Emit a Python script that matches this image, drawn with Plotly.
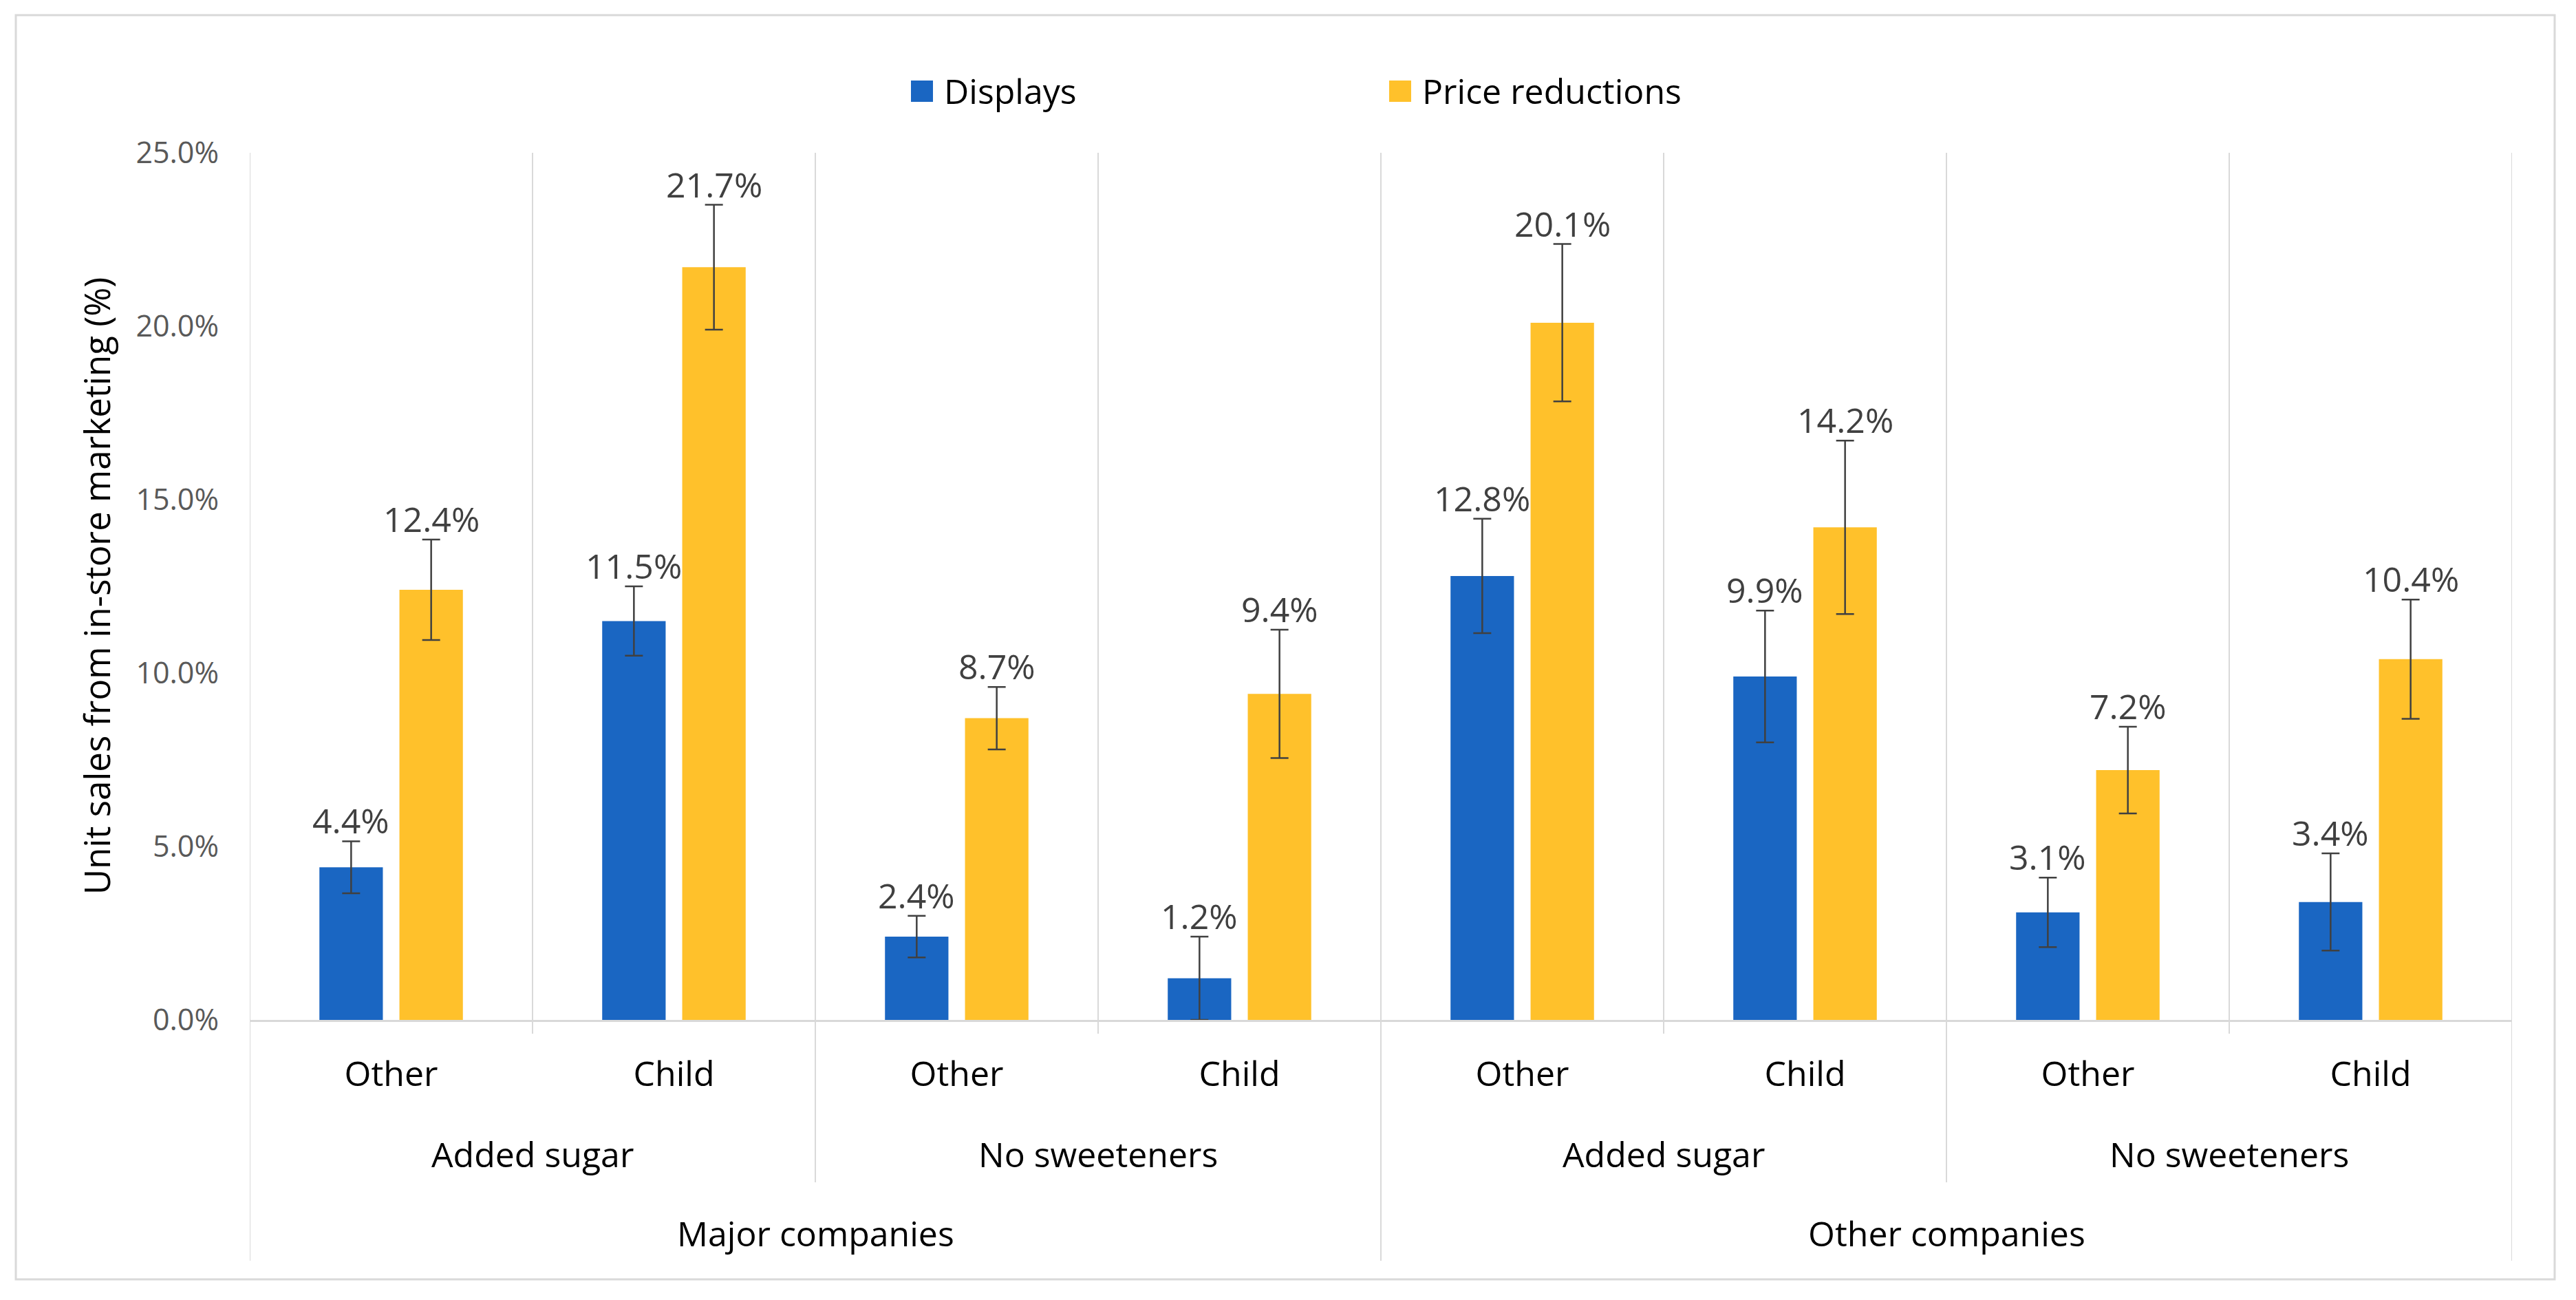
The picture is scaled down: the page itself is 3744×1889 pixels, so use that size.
import plotly.graph_objects as go

# ---------------- data ----------------
leaf_labels = ["Other", "Child", "Other", "Child", "Other", "Child", "Other", "Child"]
sweetener_labels = ["Added sugar", "No sweeteners", "Added sugar", "No sweeteners"]
company_labels = ["Major companies", "Other companies"]

series_names = ["Displays", "Price reductions"]
displays = [4.4, 11.5, 2.4, 1.2, 12.8, 9.9, 3.1, 3.4]
displays_err = [0.75, 1.0, 0.6, 1.2, 1.65, 1.9, 1.0, 1.4]
price = [12.4, 21.7, 8.7, 9.4, 20.1, 14.2, 7.2, 10.4]
price_err = [1.45, 1.8, 0.9, 1.85, 2.27, 2.5, 1.25, 1.72]

y_ticks = [0, 5, 10, 15, 20, 25]

# ---------------- style / geometry (page pixels) ----------------
OFF = 8                      # page offset of the plot div
PAGE_W, PAGE_H = 3744, 1889
W, H = PAGE_W - 2 * OFF, PAGE_H - 2 * OFF
PLOT_L, PLOT_R, PLOT_T, PLOT_B = 363, 3651, 222, 1482   # page px
ML, MR = PLOT_L - OFF, W - (PLOT_R - OFF)
MT, MB = PLOT_T - OFF, H - (PLOT_B - OFF)
PW, PH = PLOT_R - PLOT_L, PLOT_B - PLOT_T
FONT = "Open Sans, Noto Sans, sans-serif"
BLUE = "#1A66C2"
GOLD = "#FFC12B"
GRID = "#D9D9D9"
ERR = "#404040"
BARGAP = 0.434
GROUPGAP = 0.207


def px_x(p):
    return (p - PLOT_L) / PW


def px_y(p):
    return (PLOT_B - p) / PH


n = len(leaf_labels)
xs = list(range(n))
colors = [BLUE, GOLD]

fig = go.Figure()
for name, vals, errs, col in zip(series_names, (displays, price), (displays_err, price_err), colors):
    fig.add_trace(go.Bar(
        name=name, x=xs, y=vals, marker_color=col, marker_line_width=0,
        error_y=dict(type="data", array=errs, color=ERR, thickness=2.5, width=13),
    ))

shapes = []
# vertical separators (category boundaries, extended into the label hierarchy)
for b in range(n + 1):
    xb = b - 0.5
    if b in (0, n // 2, n):
        ybot = px_y(1832)
    elif b % 2 == 0:
        ybot = px_y(1718)
    else:
        ybot = px_y(1502)
    shapes.append(dict(type="line", xref="x", yref="paper", x0=xb, x1=xb, y0=ybot, y1=1,
                       line=dict(color=GRID, width=2), layer="below"))
# outer chart border
shapes.append(dict(type="rect", xref="paper", yref="paper",
                   x0=px_x(23), x1=px_x(3713), y0=px_y(1859), y1=px_y(22),
                   line=dict(color=GRID, width=3), fillcolor="rgba(0,0,0,0)"))

annotations = []
# legend (swatch + text)
legend_swatch_x = [1324, 2019]
for name, col, sx in zip(series_names, colors, legend_swatch_x):
    shapes.append(dict(type="rect", xref="paper", yref="paper",
                       x0=px_x(sx), x1=px_x(sx + 32), y0=px_y(148), y1=px_y(117),
                       line=dict(width=0), fillcolor=col))
    annotations.append(dict(x=px_x(sx + 46), y=px_y(132), xref="paper", yref="paper",
                            text=name, showarrow=False, xanchor="left", yanchor="middle",
                            font=dict(family=FONT, size=50, color="#000000")))

# data labels above the error bars
slot = (1 - BARGAP) / 2
for i in range(n):
    for vals, errs, off in ((displays, displays_err, -slot / 2), (price, price_err, slot / 2)):
        annotations.append(dict(
            x=i + off, y=vals[i] + errs[i], xref="x", yref="y",
            text=f"{vals[i]:.1f}%", showarrow=False, yanchor="bottom", yshift=-6,
            font=dict(family=FONT, size=50, color="#404040")))
# second and third level category labels
for j, lab in enumerate(sweetener_labels):
    annotations.append(dict(
        x=2 * j + 0.5, y=px_y(1677), xref="x", yref="paper", text=lab, showarrow=False,
        yanchor="middle", font=dict(family=FONT, size=50, color="#000000")))
for j, lab in enumerate(company_labels):
    annotations.append(dict(
        x=4 * j + 1.5, y=px_y(1792), xref="x", yref="paper", text=lab, showarrow=False,
        yanchor="middle", font=dict(family=FONT, size=50, color="#000000")))
# y axis title
annotations.append(dict(
    x=px_x(140), y=0.5, xref="paper", yref="paper", text="Unit sales from in-store marketing (%)",
    showarrow=False, textangle=-90, xanchor="center", yanchor="middle",
    font=dict(family=FONT, size=51, color="#000000")))

fig.update_layout(
    width=W, height=H,
    margin=dict(l=ML, r=MR, t=MT, b=MB, pad=0),
    paper_bgcolor="white", plot_bgcolor="white",
    barmode="group", bargap=BARGAP, bargroupgap=GROUPGAP,
    font=dict(family=FONT, size=50, color="#000000"),
    showlegend=False,
    xaxis=dict(range=[-0.5, n - 0.5], tickmode="array", tickvals=xs, ticktext=leaf_labels,
               showgrid=False, zeroline=False, showline=True, linecolor=GRID, linewidth=3,
               ticks="", ticklabelstandoff=33,
               tickfont=dict(family=FONT, size=50, color="#000000"), fixedrange=True),
    yaxis=dict(range=[0, 25], tickmode="array", tickvals=y_ticks,
               ticktext=[f"{v:.1f}%" for v in y_ticks],
               showgrid=False, zeroline=False, showline=False, ticks="",
               ticklabelstandoff=44,
               tickfont=dict(family=FONT, size=43, color="#595959"), fixedrange=True),
    shapes=shapes, annotations=annotations,
)

fig.write_html("out.html")
